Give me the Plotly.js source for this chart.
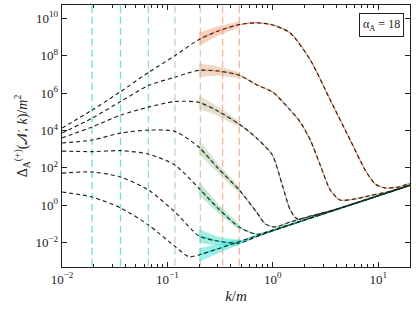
<!DOCTYPE html>
<html>
<head>
<meta charset="utf-8">
<script src="https://cdn.plot.ly/plotly-3.0.1.min.js"></script>
<style>html,body{margin:0;padding:0;background:#fff;}#chart{width:416px;height:310px;}</style>
</head>
<body>
<div id="chart"></div>
<script>
// ---- data (k/m and log10 of Delta/m^2) ----
const c1K = [0.01, 0.0193, 0.036, 0.066, 0.118, 0.2, 0.3, 0.48, 0.7, 1.0, 1.465, 2.27, 3.51, 5.43, 7.54, 9.37, 11.65, 15.5, 20];
const c1LogY = [4.13, 5.09, 6.08, 7.1, 8.0, 8.87, 9.31, 9.66, 9.76, 9.64, 9.21, 7.77, 5.63, 3.49, 1.88, 1.14, 0.93, 0.98, 1.17];

const c2K = [0.01, 0.0193, 0.036, 0.066, 0.118, 0.2, 0.3, 0.48, 0.7, 1.0, 1.465, 1.823, 2.27, 2.82, 3.51, 4.36, 6.06, 8.4, 13.0, 20];
const c2LogY = [3.86, 4.66, 5.55, 6.4, 6.85, 7.22, 7.18, 6.96, 6.45, 6.05, 5.09, 4.45, 3.49, 2.15, 0.82, 0.28, 0.34, 0.52, 0.75, 1.08];

const c3K = [0.01, 0.0193, 0.036, 0.066, 0.118, 0.2, 0.3, 0.48, 0.7, 0.99, 1.23, 1.465, 1.71, 2.27, 3.51, 5, 20];
const c3LogY = [3.6, 4.19, 4.82, 5.25, 5.55, 5.5, 5.04, 4.34, 3.6, 2.69, 1.09, -0.25, -0.73, -0.57, -0.3, -0.04, 1.07];

const c4K = [0.01, 0.0193, 0.036, 0.066, 0.118, 0.2, 0.3, 0.48, 0.7, 0.85, 1.06, 1.465, 2.27, 4, 20];
const c4LogY = [3.33, 3.49, 3.86, 4.02, 3.95, 3.1, 2.0, 0.82, -0.36, -1.0, -1.16, -0.89, -0.6, -0.22, 1.07];

const c5K = [0.01, 0.0193, 0.036, 0.066, 0.118, 0.2, 0.3, 0.48, 0.7, 1, 2, 20];
const c5LogY = [2.9, 2.87, 2.92, 2.74, 2.15, 0.9, -0.14, -1.16, -1.55, -1.32, -0.78, 1.07];

const c6K = [0.01, 0.0193, 0.036, 0.066, 0.118, 0.2, 0.3, 0.48, 0.7, 1, 20];
const c6LogY = [1.72, 1.78, 1.51, 0.82, -0.36, -1.64, -1.91, -2.02, -1.68, -1.36, 1.07];

const c7K = [0.01, 0.0193, 0.036, 0.066, 0.118, 0.16, 0.2, 0.3, 0.48, 1, 20];
const c7LogY = [0.71, 0.44, -0.14, -1.05, -2.2, -2.75, -2.65, -2.33, -1.94, -1.35, 1.07];

// band (spread of the numerical result) at the sampled k values, in decades
const bandK = [0.2, 0.3, 0.48];
const bandSpreadLog = [0.34, 0.22, 0.1];

// vertical marker positions k/m
const markerK = [0.0193, 0.0359, 0.066, 0.118, 0.2056, 0.334, 0.481];

const xTickVals = [0.01, 0.1, 1, 10];
const xTickText = ['10<sup>−2</sup>', '10<sup>−1</sup>', '10<sup>0</sup>', '10<sup>1</sup>'];
const xMinorVals = [0.02,0.03,0.04,0.05,0.06,0.07,0.08,0.09,0.2,0.3,0.4,0.5,0.6,0.7,0.8,0.9,2,3,4,5,6,7,8,9,20];
const yTickVals = [1e-2, 1e0, 1e2, 1e4, 1e6, 1e8, 1e10];
const yTickText = ['10<sup>−2</sup>', '10<sup>0</sup>', '10<sup>2</sup>', '10<sup>4</sup>', '10<sup>6</sup>', '10<sup>8</sup>', '10<sup>10</sup>'];

// ---- styling ----
const curveColors = ['#f4a07c', '#e4ae8a', '#cbc3a0', '#b0cba2', '#88d3ae', '#45dcc8', '#35e2d2'];
const markerColors = ['#48dfcf', '#52ddcb', '#7fd7bd', '#a8d4b4', '#c8c8a8', '#f0a988', '#f3a786'];

const curves = [
  {k: c1K, ly: c1LogY}, {k: c2K, ly: c2LogY}, {k: c3K, ly: c3LogY}, {k: c4K, ly: c4LogY},
  {k: c5K, ly: c5LogY}, {k: c6K, ly: c6LogY}, {k: c7K, ly: c7LogY}
];

const traces = [];
markerK.forEach((kv, i) => {
  traces.push({x: [kv, kv], y: [1e-5, 1e12], mode: 'lines', showlegend: false, hoverinfo: 'skip',
    line: {color: markerColors[i], width: 1.3, dash: '7px,4px'}, opacity: 0.85});
});
curves.forEach((c, i) => {
  const up = [], lo = [];
  bandK.forEach((bk, j) => {
    const idx = c.k.indexOf(bk);
    up.push(Math.pow(10, c.ly[idx] + bandSpreadLog[j]));
    lo.push(Math.pow(10, c.ly[idx] - bandSpreadLog[j]));
  });
  traces.push({x: bandK.concat(bandK.slice().reverse()), y: up.concat(lo.slice().reverse()),
    mode: 'lines', fill: 'toself', fillcolor: curveColors[i], opacity: 0.5, showlegend: false, hoverinfo: 'skip',
    line: {color: curveColors[i], width: 0.8, shape: 'spline', smoothing: 0.6}});
  const tx = [], ty = [];
  c.k.forEach((kv, j) => { if (kv >= bandK[0]) { tx.push(kv); ty.push(Math.pow(10, c.ly[j])); } });
  traces.push({x: tx, y: ty, mode: 'lines', showlegend: false, hoverinfo: 'skip',
    line: {color: curveColors[i], width: 1.4, shape: 'spline', smoothing: 0.7}});
});
curves.forEach((c) => {
  traces.push({x: c.k, y: c.ly.map(v => Math.pow(10, v)), mode: 'lines', showlegend: false, hoverinfo: 'skip',
    line: {color: '#222', width: 1.15, dash: '4px,3px', shape: 'spline', smoothing: 0.7}});
});

const axisCommon = {
  type: 'log', showgrid: false, zeroline: false, showline: true, linecolor: '#222', linewidth: 1.3,
  mirror: 'allticks', ticks: 'inside', ticklen: 5, tickwidth: 1, tickcolor: '#222',
  tickfont: {family: 'Liberation Serif, DejaVu Serif, serif', size: 13, color: '#222'}
};

const layout = {
  width: 416, height: 310,
  margin: {l: 62, r: 6, t: 5, b: 43},
  paper_bgcolor: '#fff', plot_bgcolor: '#fff',
  font: {family: 'Liberation Serif, DejaVu Serif, serif', color: '#222'},
  xaxis: Object.assign({}, axisCommon, {
    range: [-2, 1.302], tickmode: 'array', tickvals: xTickVals, ticktext: xTickText,
    minor: {tickmode: 'array', tickvals: xMinorVals, ticks: 'inside', ticklen: 3, tickcolor: '#222'},
    title: {text: '<i>k</i>/<i>m</i>', font: {size: 15}, standoff: 4}
  }),
  yaxis: Object.assign({}, axisCommon, {
    range: [-3.30, 10.71], tickmode: 'array', tickvals: yTickVals, ticktext: yTickText,
    title: {text: 'Δ<sub>A</sub><sup>(+)</sup>(𝒩, <i>k</i>)/<i>m</i><sup>2</sup>', font: {size: 14}, standoff: 4}
  }),
  annotations: [{
    xref: 'paper', yref: 'paper', x: 0.983, y: 0.97, xanchor: 'right', yanchor: 'top',
    text: 'α<sub>A</sub> = 18', showarrow: false, font: {size: 12, color: '#222'},
    bordercolor: '#222', borderwidth: 1, borderpad: 3, bgcolor: '#fff'
  }]
};

Plotly.newPlot('chart', traces, layout, {staticPlot: true, displayModeBar: false});
</script>
</body>
</html>
